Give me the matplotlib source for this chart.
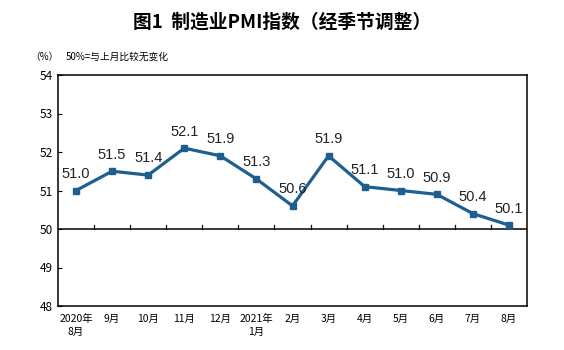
import numpy as np
import matplotlib.pyplot as plt

plt.rcParams['font.family'] = ['Noto Sans CJK SC', 'DejaVu Sans']

months = ['2020年\n8月', '9月', '10月', '11月', '12月', '2021年\n1月', '2月',
          '3月', '4月', '5月', '6月', '7月', '8月']
pmi = [51.0, 51.5, 51.4, 52.1, 51.9, 51.3, 50.6, 51.9, 51.1, 51.0, 50.9, 50.4, 50.1]
yticks = [48, 49, 50, 51, 52, 53, 54]

fig = plt.figure(figsize=(5.64, 3.5), dpi=100)
ax = fig.add_axes([58/564, 1-306/350, 469/564, 231/350])

x = np.arange(len(pmi))
ax.plot(x, pmi, color='#1f5f8f', linewidth=2.3, marker='s', markersize=4.5,
        markerfacecolor='#1f5f8f', markeredgecolor='#1f5f8f', zorder=3)
for xi, v in zip(x, pmi):
    ax.text(xi, v + 0.25, '%.1f' % v, ha='center', va='bottom', fontsize=10.5,
            family='Liberation Sans', color='#222222')

# 50 reference line with tick marks between months
ax.axhline(50, color='black', linewidth=1.1, zorder=2)
for b in np.arange(0.5, len(pmi) - 1, 1.0):
    ax.plot([b, b], [50, 50.1], color='black', linewidth=0.9)

ax.set_xlim(-0.5, len(pmi) - 0.5)
ax.set_ylim(48, 54)
ax.set_yticks(yticks)
ax.set_yticklabels([str(t) for t in yticks], fontsize=8.5)
ax.set_xticks(x)
ax.set_xticklabels(months, fontsize=7.5, linespacing=1.3)
ax.tick_params(axis='x', length=0, pad=6)
ax.tick_params(axis='y', direction='in', length=3, pad=4)
for s in ax.spines.values():
    s.set_linewidth(1.1)

fig.text(0.5, 1-22/350, '图1  制造业PMI指数（经季节调整）', ha='center', va='center',
         fontsize=13.5, fontweight='bold')
fig.text(30/564, 1-57/350, '（%）', ha='left', va='center', fontsize=7)
fig.text(66/564, 1-57/350, '50%=与上月比较无变化', ha='left', va='center', fontsize=7)

plt.savefig('out.png', dpi=100)
